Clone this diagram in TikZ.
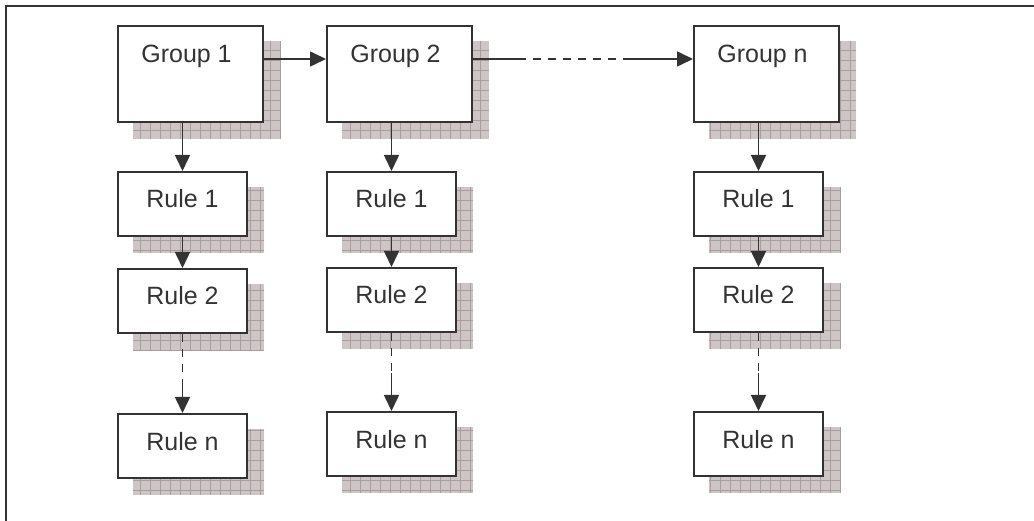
\documentclass[tikz,border=0pt]{standalone}
\usepackage{fontspec}
\setmainfont{Liberation Sans}
\usetikzlibrary{arrows.meta,backgrounds}
\definecolor{ink}{HTML}{333333}
\definecolor{shadefill}{HTML}{CEC6C6}
\definecolor{shadegrid}{HTML}{A99E9E}
\begin{document}
\begin{tikzpicture}[x=1pt,y=-1pt,
  box/.style={draw=ink, line width=2pt, fill=white, inner sep=0pt,
    anchor=north west, text=ink, font=\fontsize{25}{30}\selectfont},
  groupbox/.style={box, minimum width=145pt, minimum height=96pt,
    text height=18pt, text depth=40pt, execute at end node=\hspace*{8pt}},
  rulebox/.style={box, minimum width=129pt, minimum height=64pt,
    text height=18pt, text depth=10pt},
  link/.style={draw=ink, line width=1.6pt, -{Triangle[length=16pt,width=15pt]}},
  gap/.style={draw=ink, line width=1.6pt, dash pattern=on 8pt off 7pt},
  frameline/.style={draw=ink, line width=2pt}
]
\useasboundingbox (0,0) rectangle (1034,521);

% outer frame (top and left edges)
\draw[frameline] (6,521) -- (6,6) -- (1034,6);

% group boxes
\node[groupbox] (g1) at (117,25) {Group 1};
\node[groupbox] (g2) at (326,25) {Group 2};
\node[groupbox] (g3) at (693,25) {Group n};

% rule boxes, column 1
\node[rulebox] (r11) at (117,171) {Rule 1};
\node[rulebox] (r12) at (117,268) {Rule 2};
\node[rulebox] (r1n) at (117,413) {Rule n};
% column 2
\node[rulebox] (r21) at (326,171) {Rule 1};
\node[rulebox] (r22) at (326,267) {Rule 2};
\node[rulebox] (r2n) at (326,411) {Rule n};
% column 3
\node[rulebox] (r31) at (693,171) {Rule 1};
\node[rulebox] (r32) at (693,267) {Rule 2};
\node[rulebox] (r3n) at (693,411) {Rule n};

% hatched drop shadows
\begin{scope}[on background layer]
  \foreach \n in {g1,g2,g3,r11,r12,r1n,r21,r22,r2n,r31,r32,r3n} {
    \fill[shadefill] ([shift={(16,16)}]\n.north west) rectangle ([shift={(16,16)}]\n.south east);
    \draw[shadegrid, line width=0.7pt, xstep=10pt, ystep=10pt]
      ([shift={(16,16)}]\n.south west) grid ([shift={(16,16)}]\n.north east);
  }
\end{scope}

% links between groups
\draw[link] ([yshift=-34pt]g1.north east) -- ([yshift=-34pt]g2.north west);
\coordinate (h1) at (518,59);
\coordinate (h2) at (628,59);
\draw[draw=ink, line width=1.6pt] ([yshift=-34pt]g2.north east) -- (h1);
\draw[gap] (h1) -- (h2);
\draw[link] (h2) -- ([yshift=-34pt]g3.north west);

% group to first rule
\draw[link] (g1.south -| r11.north) -- (r11.north);
\draw[link] (g2.south -| r21.north) -- (r21.north);
\draw[link] (g3.south -| r31.north) -- (r31.north);

% rule 1 to rule 2
\draw[link] (r11) -- (r12);
\draw[link] (r21) -- (r22);
\draw[link] (r31) -- (r32);

% rule 2 to rule n, with the elided middle dashed
\coordinate (v1) at ([yshift=-50pt]r12.south);
\coordinate (v2) at ([yshift=-40pt]r22.south);
\coordinate (v3) at ([yshift=-40pt]r32.south);
\draw[gap] (r12.south) -- (v1);
\draw[link] (v1) -- (r1n.north);
\draw[gap] (r22.south) -- (v2);
\draw[link] (v2) -- (r2n.north);
\draw[gap] (r32.south) -- (v3);
\draw[link] (v3) -- (r3n.north);
\end{tikzpicture}
\end{document}
